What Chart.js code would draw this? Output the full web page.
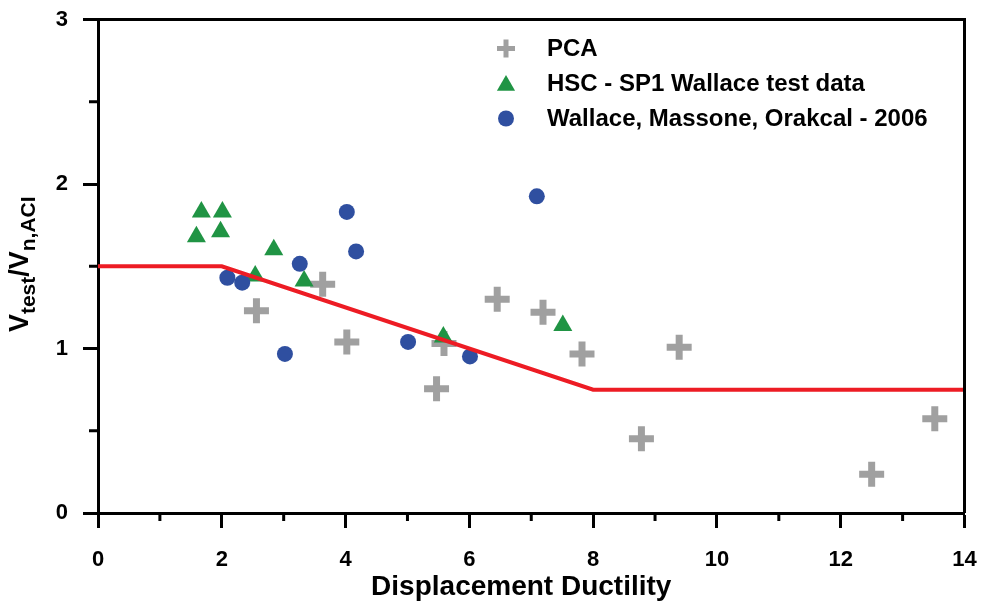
<!DOCTYPE html>
<html>
<head>
<meta charset="utf-8">
<title>Vtest/Vn,ACI vs Displacement Ductility</title>
<script src="https://cdn.jsdelivr.net/npm/chart.js@4.4.1/dist/chart.umd.min.js"></script>
<style>
  html, body { margin: 0; padding: 0; background: #fff; }
  canvas { display: block; }
</style>
</head>
<body>
<canvas id="myChart" width="984" height="605"></canvas>
<script>
// series names
const seriesNames = ['PCA', 'HSC - SP1 Wallace test data', 'Wallace, Massone, Orakcal - 2006'];
const xTitle = 'Displacement Ductility';

// PCA
const pcaX = [2.56, 3.63, 4.02, 5.47, 5.59, 6.45, 7.19, 7.82, 8.78, 9.39, 12.5, 13.52];
const pcaY = [1.23, 1.39, 1.04, 0.755, 1.03, 1.30, 1.22, 0.967, 0.452, 1.007, 0.236, 0.573];

// HSC - SP1 Wallace test data
const hscX = [1.59, 1.67, 1.98, 2.01, 2.54, 2.84, 3.33, 5.58, 7.51];
const hscY = [1.68, 1.83, 1.71, 1.83, 1.44, 1.60, 1.41, 1.07, 1.14];

// Wallace, Massone, Orakcal - 2006
const wmoX = [2.09, 2.33, 3.02, 3.26, 4.02, 4.17, 5.01, 6.01, 7.09];
const wmoY = [1.43, 1.40, 0.967, 1.515, 1.83, 1.59, 1.04, 0.952, 1.925];

// ACI limit line
const limitX = [0, 2, 8, 14];
const limitY = [1.5, 1.5, 0.75, 0.75];

// axis ticks
const minorX = [1, 3, 5, 7, 9, 11, 13];
const minorY = [0.5, 1.5, 2.5];

const FONT = '"Liberation Sans", Arial, Helvetica, sans-serif';
const GRAY = 'rgb(160,160,160)';
const GREEN = 'rgb(32,148,68)';
const BLUE = 'rgb(47,79,160)';
const RED = 'rgb(237,28,36)';

function toPoints(xs, ys) {
  return xs.map((x, i) => ({ x: x, y: ys[i] }));
}

function marker(ctx, style, color, x, y, r, w) {
  ctx.save();
  ctx.fillStyle = color;
  ctx.strokeStyle = color;
  ctx.lineWidth = w;
  Chart.helpers.drawPoint(ctx, { pointStyle: style, radius: r, borderWidth: w, rotation: 0 }, x, y);
  ctx.restore();
}

const extras = {
  id: 'extras',
  afterDraw(chart) {
    const ctx = chart.ctx;
    const area = chart.chartArea;
    const xs = chart.scales.x, ys = chart.scales.y;
    ctx.save();

    // top and right frame
    ctx.strokeStyle = '#000';
    ctx.lineWidth = 3;
    ctx.beginPath();
    ctx.moveTo(area.left, area.top);
    ctx.lineTo(area.right, area.top);
    ctx.lineTo(area.right, area.bottom);
    ctx.stroke();

    // minor ticks
    ctx.beginPath();
    minorX.forEach(v => {
      const px = xs.getPixelForValue(v);
      ctx.moveTo(px, area.bottom);
      ctx.lineTo(px, area.bottom + 8);
    });
    minorY.forEach(v => {
      const py = ys.getPixelForValue(v);
      ctx.moveTo(area.left, py);
      ctx.lineTo(area.left - 9, py);
    });
    ctx.stroke();

    // legend
    const legend = [
      { style: 'cross', color: GRAY, r: 9, w: 5 },
      { style: 'triangle', color: GREEN, r: 10.5, w: 0 },
      { style: 'circle', color: BLUE, r: 8, w: 0 }
    ];
    ctx.font = 'bold 24px ' + FONT;
    ctx.textBaseline = 'middle';
    ctx.textAlign = 'left';
    legend.forEach((item, i) => {
      const ly = area.top + 29 + i * 35;
      const lx = area.left + 408;
      marker(ctx, item.style, item.color, lx, ly + (item.style === 'triangle' ? 2 : 0), item.r, item.w);
      ctx.fillStyle = '#000';
      ctx.fillText(seriesNames[i], lx + 41, ly + 1);
    });

    // x title
    ctx.font = 'bold 28px ' + FONT;
    ctx.textAlign = 'center';
    ctx.textBaseline = 'alphabetic';
    ctx.fillText(xTitle, (area.left + area.right) / 2 - 10, 595);

    // y title: V_test / V_n,ACI
    const F = 27, f = 21, sub = 7;
    const parts = [
      { t: 'V', size: F, dy: 0 },
      { t: 'test', size: f, dy: sub },
      { t: '/', size: F, dy: 0 },
      { t: 'V', size: F, dy: 0 },
      { t: 'n,ACI', size: f, dy: sub }
    ];
    let total = 0;
    parts.forEach(p => {
      ctx.font = 'bold ' + p.size + 'px ' + FONT;
      p.w = ctx.measureText(p.t).width;
      total += p.w;
    });
    ctx.textAlign = 'left';
    ctx.translate(28, (area.top + area.bottom) / 2 - 2);
    ctx.rotate(-Math.PI / 2);
    let cx = -total / 2;
    parts.forEach(p => {
      ctx.font = 'bold ' + p.size + 'px ' + FONT;
      ctx.fillText(p.t, cx, p.dy);
      cx += p.w;
    });
    ctx.restore();
  }
};

const ctx = document.getElementById('myChart');
new Chart(ctx, {
  type: 'scatter',
  data: {
    datasets: [
      {
        type: 'line',
        label: 'ACI limit',
        data: toPoints(limitX, limitY),
        borderColor: RED,
        borderWidth: 4,
        pointRadius: 0,
        fill: false,
        tension: 0
      },
      {
        label: seriesNames[2],
        data: toPoints(wmoX, wmoY),
        pointStyle: 'circle',
        pointRadius: 8,
        pointBorderWidth: 0,
        backgroundColor: BLUE,
        borderColor: BLUE
      },
      {
        label: seriesNames[1],
        data: toPoints(hscX, hscY),
        pointStyle: 'triangle',
        pointRadius: 11,
        pointBorderWidth: 0,
        backgroundColor: GREEN,
        borderColor: GREEN
      },
      {
        label: seriesNames[0],
        data: toPoints(pcaX, pcaY),
        pointStyle: 'cross',
        pointRadius: 12.5,
        pointBorderWidth: 7,
        backgroundColor: GRAY,
        borderColor: GRAY
      }
    ]
  },
  options: {
    responsive: false,
    animation: false,
    devicePixelRatio: 1,
    layout: { padding: { top: 18, right: 19, left: 0, bottom: 0 } },
    plugins: {
      legend: { display: false },
      tooltip: { enabled: false },
      title: { display: false }
    },
    scales: {
      x: {
        type: 'linear',
        min: 0,
        max: 14,
        afterFit: s => { s.height = 92; s.paddingLeft = 0; s.paddingRight = 0; },
        border: { display: true, color: '#000', width: 3 },
        grid: { drawOnChartArea: false, drawTicks: true, tickLength: 15, tickWidth: 3, tickColor: '#000' },
        ticks: {
          stepSize: 2,
          maxRotation: 0,
          padding: 19,
          color: '#000',
          font: { family: FONT, size: 22, weight: 'bold' }
        }
      },
      y: {
        type: 'linear',
        min: 0,
        max: 3,
        afterFit: s => { s.width = 98; s.paddingTop = 0; s.paddingBottom = 0; },
        border: { display: true, color: '#000', width: 3 },
        grid: { drawOnChartArea: false, drawTicks: true, tickLength: 15, tickWidth: 3, tickColor: '#000' },
        ticks: {
          stepSize: 1,
          padding: 15,
          color: '#000',
          font: { family: FONT, size: 22, weight: 'bold' }
        }
      }
    }
  },
  plugins: [extras]
});
</script>
</body>
</html>
